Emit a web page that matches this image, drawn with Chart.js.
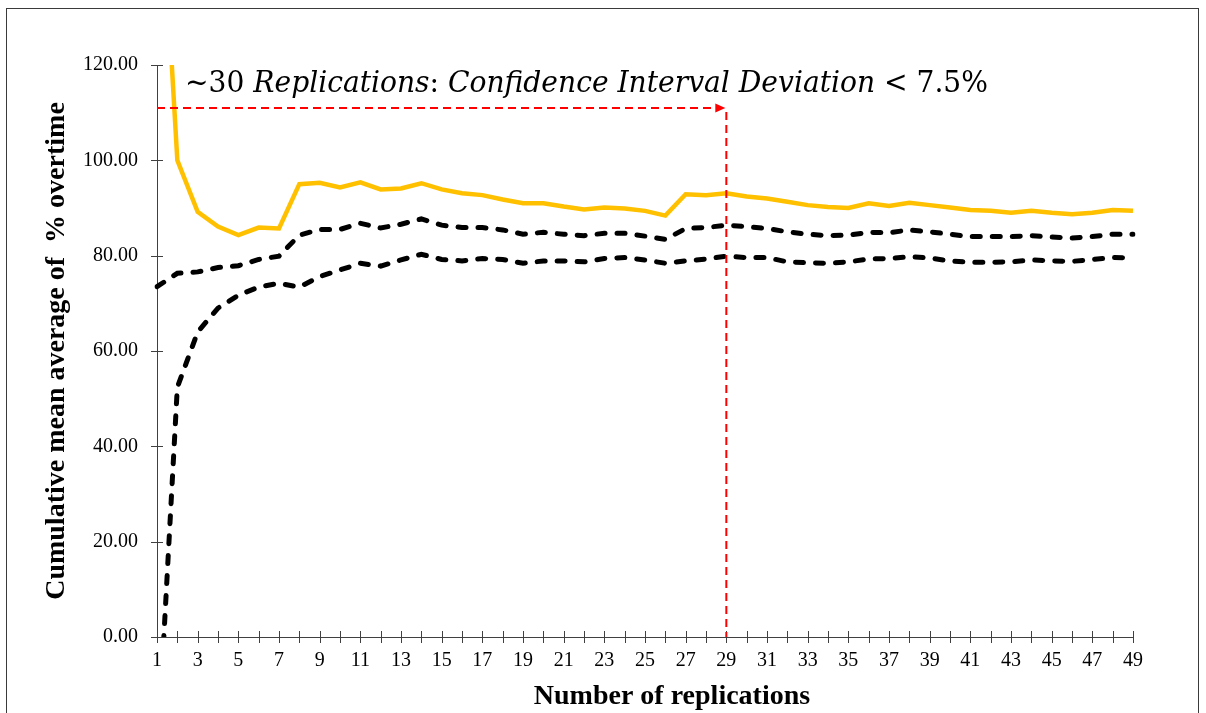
<!DOCTYPE html>
<html>
<head>
<meta charset="utf-8">
<title>Cumulative mean average of % overtime</title>
<script src="https://cdn.jsdelivr.net/npm/chart.js@4.4.1/dist/chart.umd.min.js"></script>
<style>
  html, body { margin: 0; padding: 0; background: #fff; }
  #wrap { position: relative; width: 1206px; height: 713px; }
</style>
</head>
<body>
<div id="wrap"><canvas id="replicationsChart" width="1206" height="713"></canvas></div>
<script>
// replication count on the x axis
const replications = [1, 2, 3, 4, 5, 6, 7, 8, 9, 10, 11, 12, 13, 14, 15, 16, 17, 18, 19, 20,
    21, 22, 23, 24, 25, 26, 27, 28, 29, 30, 31, 32, 33, 34, 35, 36, 37, 38, 39, 40,
    41, 42, 43, 44, 45, 46, 47, 48, 49];

// upper confidence bound
const upperBound = [173.5, 100.0, 89.2, 86.1, 84.3, 85.9, 85.7, 95.0, 95.3, 94.3,
    95.4, 93.9, 94.1, 95.2, 93.9, 93.1, 92.7, 91.8, 91.0, 91.0,
    90.3, 89.7, 90.1, 89.9, 89.4, 88.4, 92.9, 92.7, 93.1, 92.4,
    92.0, 91.3, 90.6, 90.2, 90.0, 91.0, 90.4, 91.1, 90.6, 90.1,
    89.6, 89.4, 89.0, 89.4, 89.0, 88.7, 89.0, 89.6, 89.4];

// cumulative mean
const cumulativeMean = [73.5, 76.3, 76.6, 77.5, 77.9, 79.2, 79.9, 84.3, 85.5, 85.5,
    86.8, 85.8, 86.6, 87.7, 86.4, 85.9, 85.9, 85.4, 84.5, 84.9,
    84.5, 84.2, 84.7, 84.7, 84.1, 83.4, 85.7, 85.9, 86.4, 86.1,
    85.7, 85.0, 84.5, 84.2, 84.3, 84.9, 84.8, 85.4, 85.0, 84.5,
    84.0, 84.0, 84.0, 84.2, 83.9, 83.7, 84.0, 84.5, 84.5];

// lower confidence bound
const lowerBound = [-26.5, 52.4, 64.0, 69.0, 71.7, 73.4, 74.2, 73.4, 75.6, 77.0,
    78.4, 77.8, 79.1, 80.3, 79.2, 78.9, 79.4, 79.2, 78.4, 78.9,
    78.9, 78.7, 79.4, 79.6, 79.1, 78.4, 78.9, 79.3, 79.9, 79.6,
    79.6, 78.7, 78.5, 78.4, 78.7, 79.3, 79.4, 79.8, 79.5, 78.9,
    78.6, 78.6, 78.7, 79.1, 78.9, 78.8, 79.2, 79.6, 79.5];

const yTicks = [0, 20, 40, 60, 80, 100, 120];

// where the red marker points: replication 29, height of the arrow
const chosenReplication = 29;
const arrowLevel = 111;

const SERIF = "'Times New Roman', 'Liberation Serif', serif";
const MATH = "'Cambria Math', 'DejaVu Serif', serif";

const frameAndMarkers = {
    id: 'frameAndMarkers',
    beforeDraw(chart) {
        const ctx = chart.ctx;
        ctx.save();
        ctx.fillStyle = '#fff';
        ctx.fillRect(0, 0, chart.width, chart.height);
        ctx.strokeStyle = '#3a3a3a';
        ctx.lineWidth = 1;
        ctx.strokeRect(6.5, 8.5, 1192, 760);
        ctx.restore();
    },
    afterDatasetsDraw(chart) {
        const ctx = chart.ctx;
        const x = chart.scales.x;
        const y = chart.scales.y;
        ctx.save();

        // tick marks crossing both axes
        ctx.strokeStyle = '#404040';
        ctx.lineWidth = 1;
        ctx.beginPath();
        yTicks.forEach(v => {
            const py = Math.round(y.getPixelForValue(v)) + 0.5;
            ctx.moveTo(x.left - 6, py);
            ctx.lineTo(x.left + 6, py);
        });
        replications.forEach((r, i) => {
            const px = Math.round(x.getPixelForValue(i)) + 0.5;
            ctx.moveTo(px, y.bottom - 6);
            ctx.lineTo(px, y.bottom + 6);
        });
        ctx.stroke();

        // red dashed arrow and drop line
        const ax = x.getPixelForValue(replications.indexOf(chosenReplication));
        const ay = y.getPixelForValue(arrowLevel);
        ctx.strokeStyle = '#ff0000';
        ctx.fillStyle = '#ff0000';
        ctx.lineWidth = 2;
        ctx.setLineDash([8, 5]);
        ctx.beginPath();
        ctx.moveTo(x.left, ay);
        ctx.lineTo(ax - 8, ay);
        ctx.stroke();
        ctx.beginPath();
        ctx.moveTo(ax, ay + 4);
        ctx.lineTo(ax, y.bottom);
        ctx.stroke();
        ctx.setLineDash([]);
        ctx.beginPath();
        ctx.moveTo(ax - 1, ay);
        ctx.lineTo(ax - 11, ay - 4.5);
        ctx.lineTo(ax - 11, ay + 4.5);
        ctx.closePath();
        ctx.fill();
        ctx.restore();
    },
    afterDraw(chart) {
        const ctx = chart.ctx;
        const area = chart.chartArea;
        ctx.save();

        // x axis title
        ctx.fillStyle = '#000';
        ctx.font = 'bold 28px ' + SERIF;
        ctx.textAlign = 'center';
        ctx.textBaseline = 'middle';
        ctx.fillText('Number of replications', 672, 697);

        // annotation in math style: upright numbers, italic words
        const parts = [
            ['~30 ', 'normal'],
            ['Replications', 'italic'],
            [': ', 'normal'],
            ['Confidence Interval Deviation', 'italic'],
            [' < 7.5%', 'normal']
        ];
        const size = 29;
        let natural = 0;
        parts.forEach(([t, st]) => {
            ctx.font = st + ' ' + size + 'px ' + MATH;
            natural += ctx.measureText(t).width;
        });
        const targetWidth = 803;
        ctx.translate(area.left + 28, area.top + 27);
        ctx.scale(targetWidth / natural, 1);
        ctx.textAlign = 'left';
        ctx.textBaseline = 'alphabetic';
        let cx = 0;
        parts.forEach(([t, st]) => {
            ctx.font = st + ' ' + size + 'px ' + MATH;
            ctx.fillText(t, cx, 0);
            cx += ctx.measureText(t).width;
        });
        ctx.restore();
    }
};

const ctx = document.getElementById('replicationsChart').getContext('2d');
new Chart(ctx, {
    type: 'line',
    data: {
        labels: replications,
        datasets: [
            {
                label: 'Upper bound',
                data: upperBound,
                borderColor: '#ffc000',
                borderWidth: 4.5,
                pointRadius: 0,
                tension: 0,
                fill: false
            },
            {
                label: 'Cumulative mean',
                data: cumulativeMean,
                borderColor: '#000',
                borderWidth: 5,
                borderDash: [8, 12],
                borderCapStyle: 'round',
                pointRadius: 0,
                tension: 0,
                fill: false
            },
            {
                label: 'Lower bound',
                data: lowerBound,
                borderColor: '#000',
                borderWidth: 5,
                borderDash: [8, 12],
                borderCapStyle: 'round',
                pointRadius: 0,
                tension: 0,
                fill: false
            }
        ]
    },
    options: {
        responsive: false,
        animation: false,
        devicePixelRatio: 1,
        layout: {
            padding: { top: 65, right: 73, left: 0, bottom: 0 }
        },
        plugins: {
            legend: { display: false },
            tooltip: { enabled: false }
        },
        scales: {
            x: {
                type: 'category',
                offset: false,
                grid: { display: false, drawTicks: false },
                border: { display: true, color: '#404040', width: 1 },
                ticks: {
                    autoSkip: false,
                    maxRotation: 0,
                    padding: 12,
                    color: '#000',
                    font: { family: SERIF, size: 20 },
                    callback: function (value, index) {
                        return index % 2 === 0 ? this.getLabelForValue(value) : '';
                    }
                },
                afterFit: scale => { scale.height = 76; }
            },
            y: {
                min: 0,
                max: 120,
                grid: { display: false, drawTicks: false },
                border: { display: true, color: '#404040', width: 1 },
                ticks: {
                    stepSize: 20,
                    padding: 19,
                    color: '#000',
                    font: { family: SERIF, size: 20 },
                    callback: v => v.toFixed(2)
                },
                title: {
                    display: true,
                    text: 'Cumulative mean average of  % overtime',
                    color: '#000',
                    font: { family: SERIF, size: 28, weight: 'bold' },
                    padding: { top: 40, bottom: 0 }
                },
                afterFit: scale => { scale.width = 157; }
            }
        }
    },
    plugins: [frameAndMarkers]
});
</script>
</body>
</html>
